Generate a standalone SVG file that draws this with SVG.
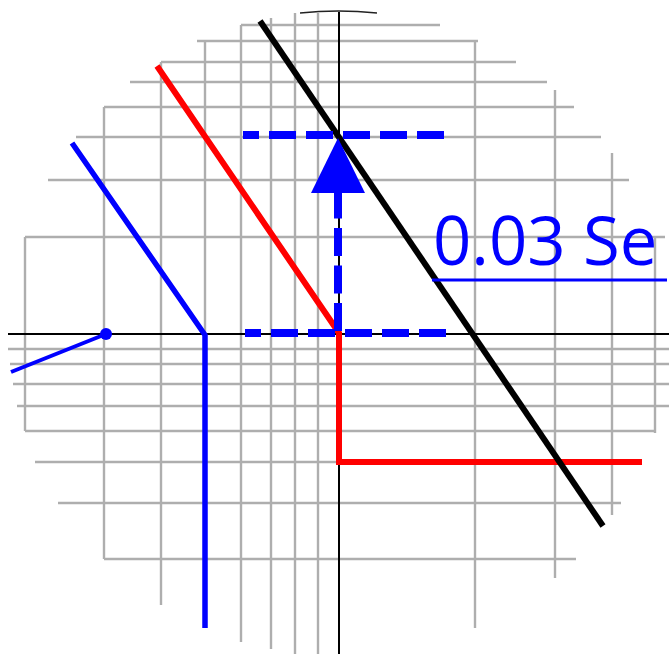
<svg xmlns="http://www.w3.org/2000/svg" width="669" height="654" viewBox="0 0 669 654">
<style>
.g{stroke:#aeaeae;stroke-width:2.4;fill:none}
.ax{stroke:#000;stroke-width:2;fill:none}
.bl{stroke:#0000ff;fill:none}
.dash{stroke:#0000ff;stroke-width:8;stroke-dasharray:27 10;fill:none}
.lbl{font-family:"Open Sans","Noto Sans",sans-serif;font-size:67px;fill:#0000ff}
</style>
<rect width="669" height="654" fill="#fff"/>
<g id="grid">
<path class="g" d="M25,237V431M104,107V559M161,62V605M205,41V628M241,25V642M271,18V649M295,13V654M318,13V654M475,41V628M555,90V578M612,153V515M655,237V433"/>
<path class="g" d="M241,25H440M197,41H478M161,62H516M130,82H547M104,107H574M76,137H601M48,180H629M25,237H665M8,349H669M10,364H669M13,384H669M17,406H669M25,431H655M35,462H640M58,503H621M104,559H576"/>
</g>
<g id="axes">
<path class="ax" d="M8,334H669M339,12V654"/>
<path d="M300,13Q338,9 377,13" stroke="#222" stroke-width="1.5" fill="none"/>
</g>
<g id="connectors">
<polyline id="red-line" points="157,66 339,333 339,462 642,462" stroke="#ff0000" stroke-width="6" fill="none"/>
<line id="black-line" x1="260" y1="21" x2="603" y2="526" stroke="#000" stroke-width="6"/>
<polyline id="blue-line" class="bl" points="72,143 205,335 205,628" stroke-width="5.5"/>
<line class="bl" x1="11" y1="372" x2="106" y2="334" stroke-width="4"/>
<circle cx="106" cy="334" r="6" fill="#0000ff"/>
<line class="dash" x1="444" y1="135" x2="243" y2="135"/>
<line class="dash" x1="446" y1="333" x2="245" y2="333"/>
<line class="bl" x1="338" y1="331" x2="338" y2="190" stroke-width="8" stroke-dasharray="28 9.5"/>
<polygon points="338,138 311,193 365,193" fill="#0000ff"/>
</g>
<g id="label">
<text class="lbl" x="433" y="265">0.03 Se</text>
<line x1="432" y1="280" x2="667" y2="280" stroke="#0000ff" stroke-width="3"/>
</g>
</svg>
